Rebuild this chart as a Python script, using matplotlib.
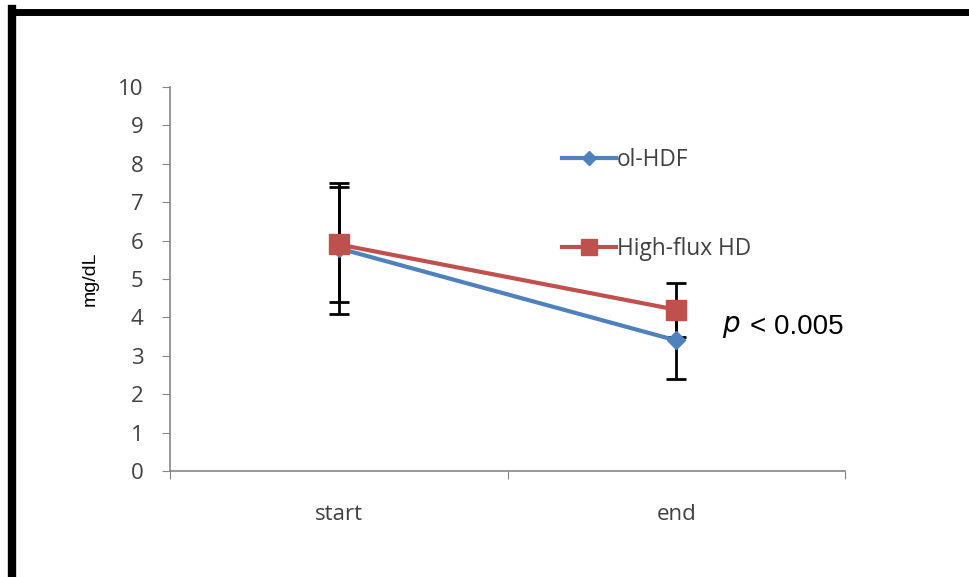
import numpy as np
import matplotlib.pyplot as plt
from matplotlib.lines import Line2D

# data
groups = ['start', 'end']
hdf_mean = [5.8, 3.4]
hdf_sd = [1.7, 1.0]
hf_mean = [5.9, 4.2]
hf_sd = [1.5, 0.7]
yticks = list(range(0, 11))

blue = '#4F81BD'
red = '#C0504D'
axcol = '#868686'

fig = plt.figure(figsize=(9.69, 5.77), dpi=100)
ax = fig.add_axes([170 / 969, 1 - 471 / 577, 675 / 969, 384 / 577])

x = np.arange(len(groups)) + 0.5

# error bars under the lines
ax.errorbar(x, hdf_mean, yerr=hdf_sd, fmt='none', ecolor='black',
            elinewidth=2, capsize=7, capthick=2, zorder=2)
ax.errorbar(x, hf_mean, yerr=hf_sd, fmt='none', ecolor='black',
            elinewidth=2, capsize=7, capthick=2, zorder=2)
ax.plot(x, hdf_mean, color=blue, lw=3, marker='D', ms=9, zorder=3, label='ol-HDF')
ax.plot(x, hf_mean, color=red, lw=3, marker='s', ms=14, zorder=4, label='High-flux HD')

ax.set_xlim(0, 2)
ax.set_ylim(0, 10)
ax.set_yticks(yticks)
ax.set_xticks([0, 1, 2])
ax.set_xticklabels([])
ax.set_xticks(x, minor=True)
ax.set_xticklabels(groups, minor=True, fontsize=16, family='Open Sans', color='#404040')
ax.tick_params(axis='x', which='minor', length=0, pad=24)
ax.tick_params(axis='x', which='major', length=6, color=axcol, direction='out')
ax.tick_params(axis='y', length=6, color=axcol, direction='out', pad=13,
               labelsize=16, labelcolor='#404040')
for lab in ax.get_yticklabels():
    lab.set_family('Open Sans')

for s in ['top', 'right']:
    ax.spines[s].set_visible(False)
for s in ['left', 'bottom']:
    ax.spines[s].set_color(axcol)
    ax.spines[s].set_linewidth(1.2)

ax.set_ylabel('mg/dL', fontsize=14, family='Liberation Sans', labelpad=14)

handles = [
    Line2D([], [], color=blue, lw=3, marker='D', ms=7),
    Line2D([], [], color=red, lw=3, marker='s', ms=11),
]
leg = ax.legend(handles, ['ol-HDF', 'High-flux HD'], frameon=False,
                loc='upper left', bbox_to_anchor=(0.55, 0.895),
                handlelength=2.4, handletextpad=0.05, labelspacing=2.9,
                prop={'family': 'Open Sans', 'size': 16.3})
for t in leg.get_texts():
    t.set_color('#404040')

fig.text(722 / 969, 1 - 327 / 577, r'$p$', fontsize=20, family='Liberation Sans',
         va='center', ha='left')
fig.text(750 / 969, 1 - 327 / 577, '< 0.005', fontsize=20, family='Liberation Sans',
         va='center', ha='left')

# black frame on left and top
fig.add_artist(Line2D([12 / 969, 12 / 969], [0, 1 - 9 / 577], color='black', lw=6,
                      transform=fig.transFigure, solid_capstyle='projecting'))
fig.add_artist(Line2D([12 / 969, 1], [1 - 12 / 577, 1 - 12 / 577], color='black', lw=5,
                      transform=fig.transFigure, solid_capstyle='projecting'))

fig.savefig('out.png', dpi=100)
